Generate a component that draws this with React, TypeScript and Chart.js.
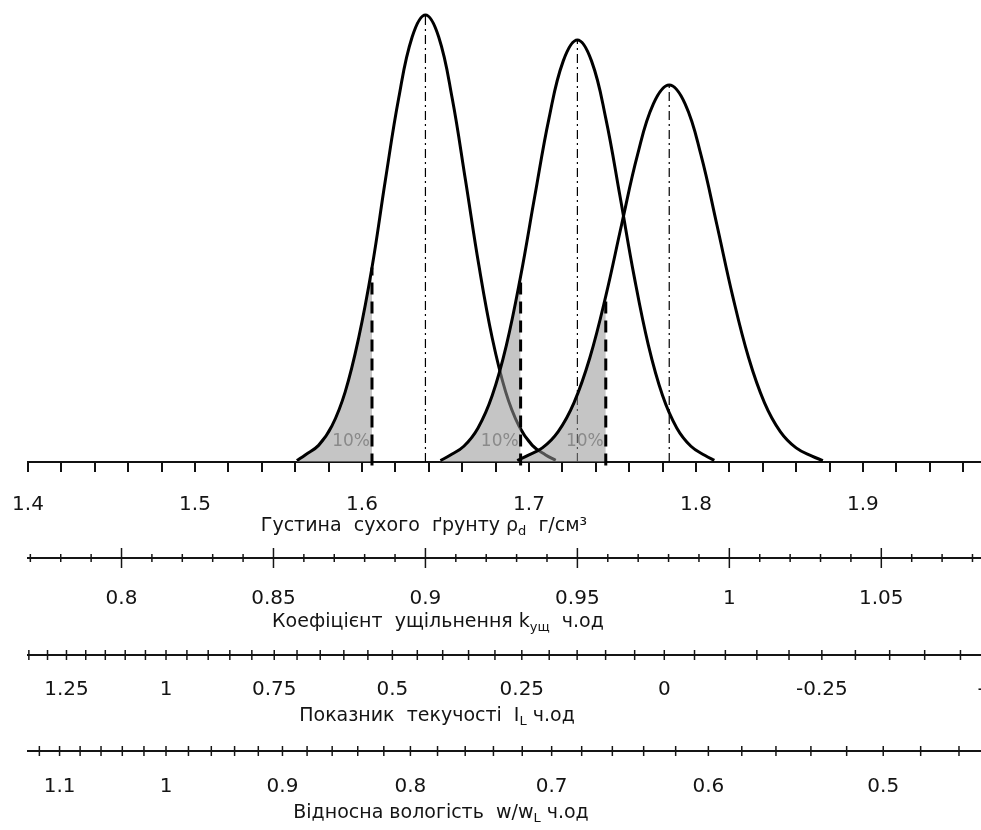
import React, { useEffect, useRef } from 'react';
import { Chart, registerables } from 'chart.js';

Chart.register(...registerables);

const FONT = '"DejaVu Sans", "Noto Sans", sans-serif';

// ---- main axis: dry density of soil, g/cm3
const X_MIN = 1.4;
const X_MAX = 1.9707;
const X_STEP = 0.02;
const X_LABELS = [1.4, 1.5, 1.6, 1.7, 1.8, 1.9];
const Y_MAX = 16.4;

// ---- three density distributions
const RHO_1 = [1.561, 1.566, 1.574, 1.582, 1.59, 1.598, 1.606, 1.614, 1.622, 1.63, 1.638, 1.646, 1.654, 1.662, 1.67, 1.678, 1.686, 1.694, 1.702, 1.71, 1.716];
const PDF_1 = [0.05, 0.25, 0.59, 1.28, 2.5, 4.4, 6.9, 10.0, 12.92, 15.08, 15.87, 15.08, 12.92, 10.0, 6.98, 4.4, 2.5, 1.28, 0.59, 0.25, 0.06];

const RHO_2 = [1.647, 1.6525, 1.661, 1.6695, 1.678, 1.6865, 1.695, 1.7035, 1.712, 1.7205, 1.729, 1.7375, 1.746, 1.7545, 1.763, 1.7715, 1.78, 1.7885, 1.797, 1.8055, 1.811];
const PDF_2 = [0.05, 0.23, 0.56, 1.21, 2.36, 4.15, 6.59, 9.44, 12.2, 14.23, 14.98, 14.23, 12.2, 9.44, 6.59, 4.15, 2.36, 1.21, 0.56, 0.23, 0.06];

const RHO_3 = [1.693, 1.6985, 1.708, 1.7175, 1.727, 1.7365, 1.746, 1.7555, 1.765, 1.7745, 1.784, 1.7935, 1.803, 1.8125, 1.822, 1.8315, 1.841, 1.8505, 1.86, 1.8695, 1.876];
const PDF_3 = [0.05, 0.21, 0.5, 1.08, 2.11, 3.71, 5.89, 8.43, 10.9, 12.71, 13.38, 12.71, 10.9, 8.43, 5.89, 3.71, 2.11, 1.08, 0.5, 0.21, 0.05];

const MEANS = [1.638, 1.729, 1.784];
const Q10 = [1.606, 1.695, 1.746];
const SHADE_LABEL = '10%';

// ---- secondary scales (relations to dry density)
const RHO_D_MAX = 1.82;
const RHO_S = 2.692;
const W_L = 0.303;
const W_P = 0.19;

const K_LABELS = [0.8, 0.85, 0.9, 0.95, 1, 1.05];
const K_STEP = 0.01;
const IL_LABELS = [1.25, 1, 0.75, 0.5, 0.25, 0, -0.25, -0.5];
const IL_STEP = 0.05;
const W_LABELS = [1.1, 1, 0.9, 0.8, 0.7, 0.6, 0.5];
const W_STEP = 0.02;

type Part = { t: string; sub?: boolean };
const TITLE_RHO: Part[] = [{ t: 'Густина  сухого  ґрунту ρ' }, { t: 'd', sub: true }, { t: '  г/см³' }];
const TITLE_K: Part[] = [{ t: 'Коефіцієнт  ущільнення k' }, { t: 'ущ', sub: true }, { t: '  ч.од' }];
const TITLE_IL: Part[] = [{ t: 'Показник  текучості  I' }, { t: 'L', sub: true }, { t: ' ч.од' }];
const TITLE_W: Part[] = [{ t: 'Відносна вологість  w/w' }, { t: 'L', sub: true }, { t: ' ч.од' }];

const CURVES: [number[], number[]][] = [
  [RHO_1, PDF_1],
  [RHO_2, PDF_2],
  [RHO_3, PDF_3],
];

const TEXT = '#141414';
const SHADE = 'rgba(150,150,150,0.55)';
const TENSION = 0.4;

const pts = (xs: number[], ys: number[]) => xs.map((x, i) => ({ x, y: ys[i] }));

function curveDs(i: number, order: number) {
  const [xs, ys] = CURVES[i];
  return {
    data: pts(xs, ys),
    borderColor: '#000',
    borderWidth: 3,
    tension: TENSION,
    fill: false,
    pointRadius: 0,
    order,
  };
}
function shadeDs(i: number, order: number) {
  const [xs, ys] = CURVES[i];
  const n = xs.indexOf(Q10[i]);
  return {
    data: pts(xs.slice(0, n + 1), ys.slice(0, n + 1)),
    fill: 'origin',
    backgroundColor: SHADE,
    borderColor: 'rgba(0,0,0,0)',
    borderWidth: 0,
    tension: TENSION,
    pointRadius: 0,
    order,
  };
}
function meanDs(i: number, order: number) {
  const [xs, ys] = CURVES[i];
  const n = xs.indexOf(MEANS[i]);
  return {
    data: [{ x: MEANS[i], y: 0 }, { x: MEANS[i], y: ys[n] }],
    borderColor: '#000',
    borderWidth: 1.2,
    borderDash: [9, 4, 2, 4],
    fill: false,
    pointRadius: 0,
    order,
  };
}
function q10Ds(i: number, order: number) {
  const [xs, ys] = CURVES[i];
  const n = xs.indexOf(Q10[i]);
  return {
    data: [{ x: Q10[i], y: -0.12 }, { x: Q10[i], y: ys[n] }],
    borderColor: '#000',
    borderWidth: 3,
    borderDash: [12, 7],
    fill: false,
    pointRadius: 0,
    clip: false,
    order,
  };
}

const SEC_AXES = [
  {
    toRho: (k: number) => k * RHO_D_MAX,
    labels: K_LABELS, step: K_STEP, from: 70, to: 115, majorEvery: 5,
    lineY: 558, labelY: 599, majorLen: 10, minorLen: 4,
    title: TITLE_K, titleX: 438, titleY: 622,
  },
  {
    toRho: (il: number) => 1 / (1 / RHO_S + W_P + il * (W_L - W_P)),
    labels: IL_LABELS, step: IL_STEP, from: -20, to: 40, majorEvery: 0,
    lineY: 655, labelY: 690, majorLen: 5, minorLen: 5,
    title: TITLE_IL, titleX: 437, titleY: 716,
  },
  {
    toRho: (r: number) => 1 / (1 / RHO_S + r * W_L),
    labels: W_LABELS, step: W_STEP, from: 10, to: 80, majorEvery: 0,
    lineY: 751, labelY: 787, majorLen: 5, minorLen: 5,
    title: TITLE_W, titleX: 441, titleY: 813,
  },
];

function drawRich(ctx: CanvasRenderingContext2D, parts: Part[], cx: number, cy: number, size: number) {
  const subSize = Math.round(size * 0.68);
  const widths = parts.map((p) => {
    ctx.font = `${p.sub ? subSize : size}px ${FONT}`;
    return ctx.measureText(p.t).width;
  });
  const total = widths.reduce((a, b) => a + b, 0);
  let x = cx - total / 2;
  ctx.textAlign = 'left';
  ctx.textBaseline = 'middle';
  ctx.fillStyle = TEXT;
  parts.forEach((p, i) => {
    ctx.font = `${p.sub ? subSize : size}px ${FONT}`;
    ctx.fillText(p.t, x, p.sub ? cy + size * 0.32 : cy);
    x += widths[i];
  });
}

const axesPlugin = {
  id: 'extraAxes',
  afterDraw(chart: any) {
    const ctx: CanvasRenderingContext2D = chart.ctx;
    const xs = chart.scales.x;
    const ca = chart.chartArea;
    ctx.save();
    // 10% labels
    ctx.font = `17px ${FONT}`;
    ctx.fillStyle = '#8a8a8a';
    ctx.textAlign = 'right';
    ctx.textBaseline = 'middle';
    Q10.forEach((q) => ctx.fillText(SHADE_LABEL, xs.getPixelForValue(q) - 2, ca.bottom - 20));

    // main axis title
    drawRich(ctx, TITLE_RHO, 424, 526, 19);

    SEC_AXES.forEach((ax) => {
      ctx.strokeStyle = '#151515';
      ctx.lineWidth = 2;
      ctx.beginPath();
      ctx.moveTo(ca.left - 1, ax.lineY);
      ctx.lineTo(ca.right, ax.lineY);
      ctx.stroke();
      ctx.lineWidth = 1.5;
      for (let i = ax.from; i <= ax.to; i++) {
        const v = i * ax.step;
        const px = xs.getPixelForValue(ax.toRho(v));
        if (px < ca.left - 0.5 || px > ca.right) continue;
        const len = ax.majorEvery && i % ax.majorEvery === 0 ? ax.majorLen : ax.minorLen;
        ctx.beginPath();
        ctx.moveTo(px, ax.lineY - len);
        ctx.lineTo(px, ax.lineY + len);
        ctx.stroke();
      }
      ctx.font = `20px ${FONT}`;
      ctx.fillStyle = TEXT;
      ctx.textAlign = 'center';
      ctx.textBaseline = 'middle';
      ax.labels.forEach((v) => {
        ctx.fillText(String(v), xs.getPixelForValue(ax.toRho(v)), ax.labelY);
      });
      drawRich(ctx, ax.title, ax.titleX, ax.titleY, 19);
    });
    ctx.restore();
  },
};

const isLabel = (v: number) => X_LABELS.some((l) => Math.abs(l - v) < 1e-6);

export default function App() {
  const ref = useRef<HTMLCanvasElement>(null);
  useEffect(() => {
    document.body.style.margin = '0';
    const datasets: any[] = [
      meanDs(0, 20), meanDs(1, 20), meanDs(2, 20),
      shadeDs(0, 15),
      curveDs(0, 14),
      shadeDs(1, 13),
      shadeDs(2, 12),
      curveDs(1, 11),
      curveDs(2, 10),
      q10Ds(0, 5), q10Ds(1, 5), q10Ds(2, 5),
    ];
    const chart = new Chart(ref.current as HTMLCanvasElement, {
      type: 'line',
      data: { datasets },
      options: {
        animation: false,
        responsive: false,
        devicePixelRatio: 1,
        layout: { padding: { left: 28, right: 0, top: 0, bottom: 0 } },
        plugins: { legend: { display: false }, tooltip: { enabled: false } },
        elements: { point: { radius: 0 } },
        scales: {
          x: {
            type: 'linear',
            min: X_MIN,
            max: X_MAX,
            afterFit: (s: any) => {
              s.height = 368;
              s.paddingLeft = 0;
              s.paddingRight = 0;
            },
            border: { color: '#111', width: 2 },
            grid: { drawOnChartArea: false, color: '#111', lineWidth: 2, tickLength: 10 },
            ticks: {
              stepSize: X_STEP,
              includeBounds: false,
              autoSkip: false,
              maxRotation: 0,
              minRotation: 0,
              padding: 21,
              color: TEXT,
              font: { family: FONT, size: 20 },
              callback: (v: any) => (isLabel(Number(v)) ? Number(v).toFixed(1) : ''),
            },
          },
          y: { display: false, min: 0, max: Y_MAX },
        },
      } as any,
      plugins: [axesPlugin],
    });
    return () => chart.destroy();
  }, []);
  return (
    <canvas
      ref={ref}
      width={981}
      height={830}
      style={{ display: 'block', width: '981px', height: '830px' }}
    />
  );
}
